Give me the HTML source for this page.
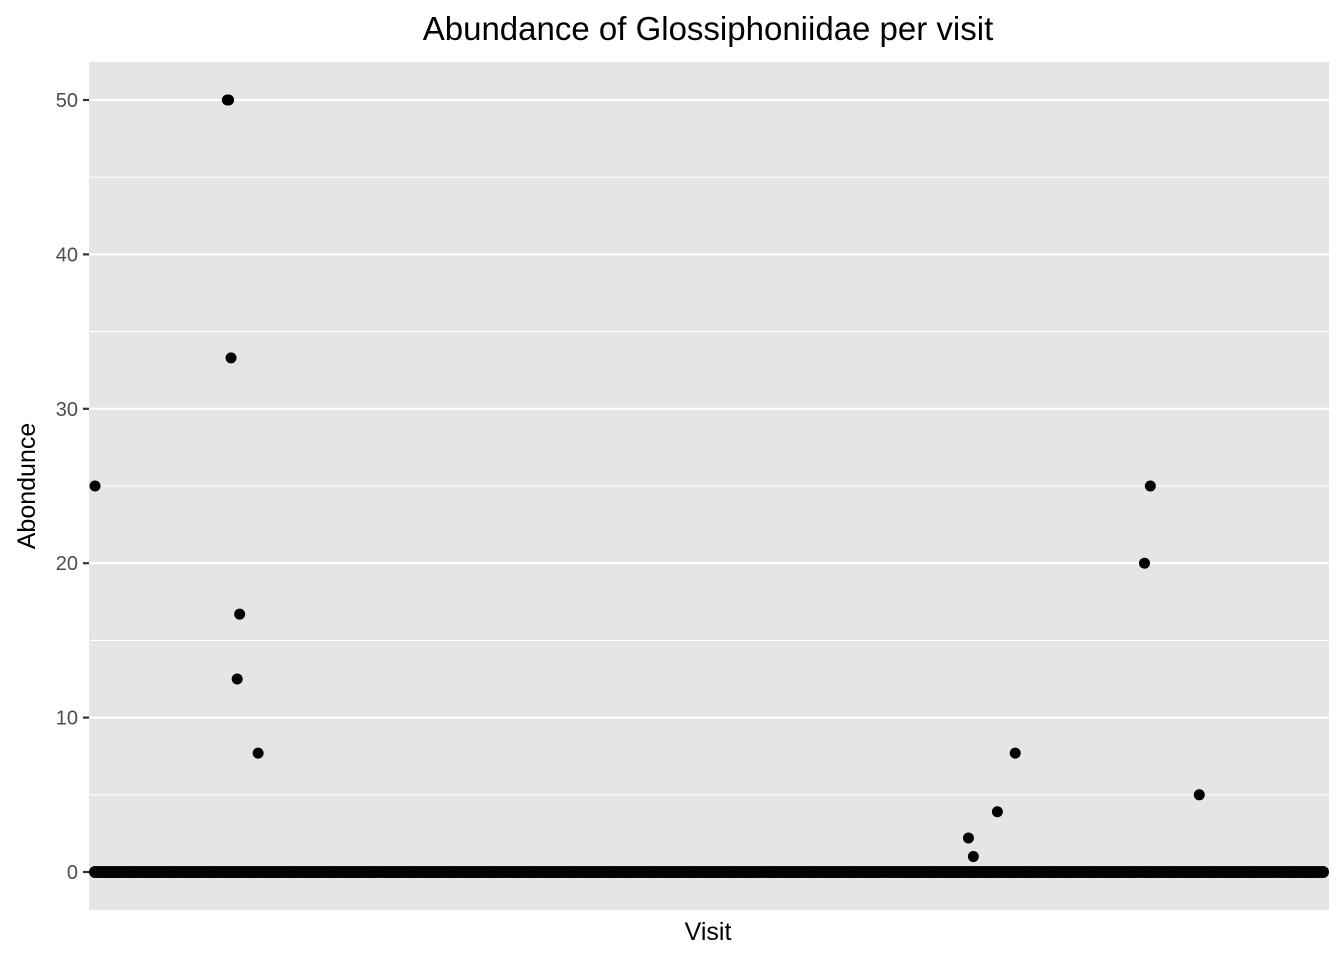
<!DOCTYPE html>
<html><head><meta charset="utf-8"><style>
body{margin:0;background:#fff;}
text{font-family:"Liberation Sans",Arial,sans-serif;}
</style></head><body>
<svg id="chart" width="1344" height="960">
<rect x="0" y="0" width="1344" height="960" fill="#fff"/>
<rect x="89" y="62" width="1240" height="848" fill="#E5E5E5"/>
<g id="grid"></g><g id="ticks"></g><g id="pts"></g>
<text x="708" y="40" font-size="33" text-anchor="middle" fill="#000">Abundance of Glossiphoniidae per visit</text>
<text x="708" y="940" font-size="25" text-anchor="middle" fill="#000">Visit</text>
<text x="0" y="0" font-size="25" text-anchor="middle" fill="#000" transform="translate(35,486) rotate(-90)">Abondunce</text>
</svg>
<script>
const nVisits = 400;
const yTicks = [0,10,20,30,40,50];
const yMinor = [5,15,25,35,45];
const visitIdx = [0,43,43.4,44.2,47,46.2,53,283.8,285.4,293.2,299,341,342.9,358.8];
const abundance = [25,50,50,33.3,16.7,12.5,7.7,2.2,1,3.9,7.7,20,25,5];
const NS='http://www.w3.org/2000/svg';
const x0=95,x1=1323,y0=872,yPer=(872-100)/50;
const xs=i=>x0+(x1-x0)*i/(nVisits-1);
const ys=v=>y0-v*yPer;
const grid=document.getElementById('grid'),ticks=document.getElementById('ticks'),pts=document.getElementById('pts');
function mk(t,a,p){const e=document.createElementNS(NS,t);for(const k in a)e.setAttribute(k,a[k]);p.appendChild(e);return e;}
yMinor.forEach(v=>{const l=mk('line',{x1:89,x2:1329,y1:ys(v),y2:ys(v),stroke:'#fff','stroke-width':1.1},grid);

});
yTicks.forEach(v=>{const l=mk('line',{x1:89,x2:1329,y1:ys(v),y2:ys(v),stroke:'#fff','stroke-width':2.2},grid);


const tk=mk('line',{x1:83,x2:89,y1:ys(v),y2:ys(v),stroke:'#333','stroke-width':2.2},ticks);


const t=mk('text',{x:78,y:ys(v)+7,'font-size':20,'text-anchor':'end',fill:'#4D4D4D'},ticks);
t.textContent=v;

});
for(let i=0;i<nVisits;i++){const c=mk('circle',{cx:xs(i),cy:ys(0),r:6,fill:'#000'},pts);

}
visitIdx.forEach((i,k)=>{const c=mk('circle',{cx:xs(i),cy:ys(abundance[k]),r:5.5,fill:'#000'},pts);

});
</script>
</body></html>
